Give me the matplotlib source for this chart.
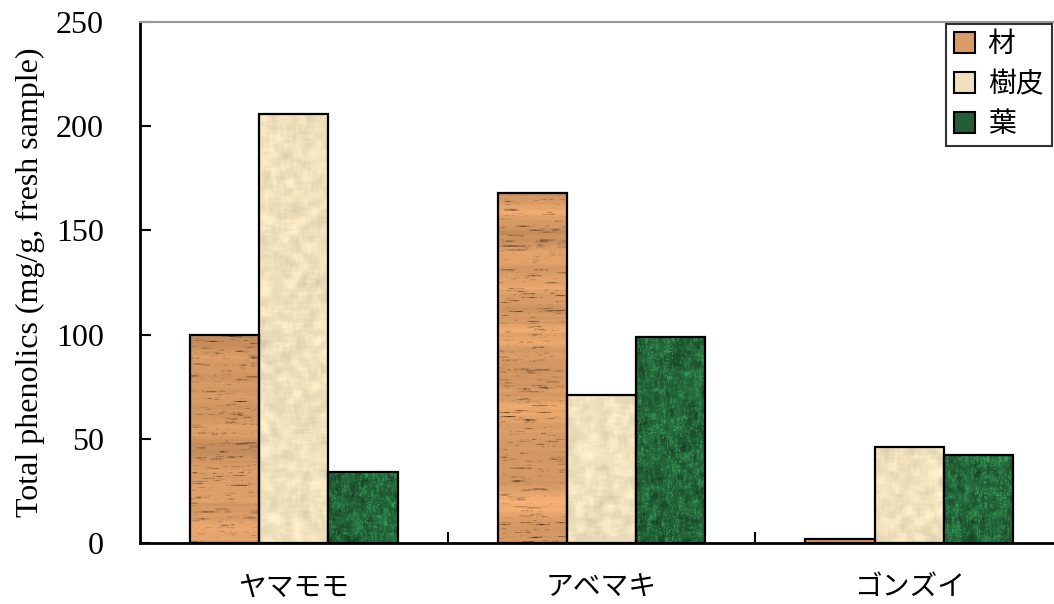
import numpy as np
import matplotlib
matplotlib.use("Agg")
import matplotlib.pyplot as plt
from matplotlib.patches import Patch

plt.rcParams['font.family'] = ['Liberation Serif', 'Noto Sans CJK JP']

# data
species = ["ヤマモモ", "アベマキ", "ゴンズイ"]
parts = ["材", "樹皮", "葉"]
wood = [100, 168, 2]
bark = [206, 71, 46]
leaf = [34, 99, 42]
y_ticks = [0, 50, 100, 150, 200, 250]

base_colors = {"wood": (0.85, 0.61, 0.40), "paper": (0.94, 0.88, 0.74), "marble": (0.13, 0.37, 0.21)}


def smooth(a, k, axis):
    k = max(1, min(k, a.shape[axis]))
    kern = np.ones(k) / k
    return np.apply_along_axis(lambda v: np.convolve(v, kern, mode='same'), axis, a)


def make_texture(kind, h, w, rng):
    # purely decorative fill pattern, seeded
    h = max(h, 30)
    if kind == "wood":
        streak = smooth(rng.normal(size=(h, w)), 15, 1) * 3.5
        lines = np.clip(streak - 0.9, 0, None)
        band = smooth(rng.normal(size=(h, 1)), 20, 0) * 3
        shade = 1 - 0.35 * lines - 0.07 * np.clip(band, -2, 2)
    elif kind == "paper":
        n = smooth(smooth(rng.normal(size=(h, w)), 9, 0), 9, 1)
        shade = 1 - 0.25 * n
    else:
        n = smooth(smooth(rng.normal(size=(h, w)), 7, 0), 7, 1)
        veins = np.abs(smooth(smooth(rng.normal(size=(h, w)), 13, 0), 3, 1))
        shade = 1 + 0.8 * n + 0.6 * np.clip(0.06 - veins, 0, None) / 0.06
    img = np.array(base_colors[kind])[None, None, :] * shade[:, :, None]
    return np.clip(img, 0, 1)


fig = plt.figure(figsize=(10.54, 6.04), dpi=100)
ax = fig.add_axes([140 / 1054, 1 - 543 / 604, 923 / 1054, 521 / 604])

x = np.arange(len(species))
width = 0.225
rng = np.random.default_rng(3)
series = [(wood, "wood", -width), (bark, "paper", 0.0), (leaf, "marble", width)]
for vals, kind, off in series:
    bars = ax.bar(x + off, vals, width, facecolor='none', edgecolor='black',
                  linewidth=1.6, zorder=3)
    for b, v in zip(bars, vals):
        img = make_texture(kind, int(v * 2.1) + 2, 68, rng)
        im = ax.imshow(img, extent=(b.get_x(), b.get_x() + b.get_width(), 0, v),
                       aspect='auto', zorder=2, interpolation='bilinear')
        im.set_clip_path(b)

ax.set_xlim(-0.5, 2.5)
ax.set_ylim(0, 250)
ax.set_yticks(y_ticks)
ax.tick_params(axis='y', direction='in', length=8, width=1.5, labelsize=23, pad=26)
ax.set_xticks(x)
ax.set_xticklabels(species, fontsize=20)
ax.tick_params(axis='x', length=0, pad=24)
ax.set_xticks([0.5, 1.5], minor=True)
ax.tick_params(axis='x', which='minor', direction='in', length=8, width=1.5)
ax.set_ylabel("Total phenolics (mg/g, fresh sample)", fontsize=23, labelpad=8)

ax.spines['left'].set_linewidth(2)
ax.spines['bottom'].set_linewidth(2)
ax.spines['top'].set_color('#999999')
ax.spines['top'].set_linewidth(1.5)

handles = [Patch(facecolor=base_colors[k], edgecolor='black', linewidth=1.5)
           for k in ["wood", "paper", "marble"]]
leg = fig.legend(handles, parts, loc='upper left', bbox_to_anchor=(946 / 1054, 1 - 24 / 604),
                 fontsize=20, frameon=True, fancybox=False, edgecolor='black',
                 handlelength=0.75, handleheight=0.75, handletextpad=0.45,
                 labelspacing=0.5, borderpad=0.3, borderaxespad=0)
leg.get_frame().set_linewidth(1.5)

fig.savefig("out.png", dpi=100)
